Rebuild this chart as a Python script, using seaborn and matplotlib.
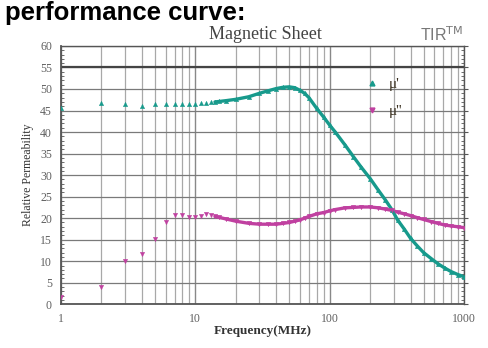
import matplotlib
matplotlib.use("Agg")
import matplotlib.pyplot as plt
import seaborn as sns
import numpy as np
import pandas as pd
from matplotlib.lines import Line2D
from matplotlib.ticker import LogLocator, MultipleLocator, NullFormatter, FixedLocator

freq = [1, 2, 3, 4, 5, 6, 7, 8, 9, 10, 11, 12, 13, 14, 15, 17, 20, 25, 30, 35, 40, 45, 50,
        55, 60, 65, 70, 80, 90, 100, 110, 130, 150, 170, 200, 230, 260, 290, 320, 360,
        400, 450, 500, 570, 640, 720, 800, 900, 1000]
mu_real = [45.5, 46.8, 46.5, 46.1, 46.6, 46.6, 46.6, 46.5, 46.5, 46.6, 46.7, 46.8, 46.9, 47.0,
           47.1, 47.3, 47.6, 48.2, 49.0, 49.6, 50.1, 50.4, 50.5, 50.3, 49.7, 49.0, 48.0, 45.5,
           43.5, 41.6, 40.0, 37.0, 34.3, 32.0, 29.2, 26.5, 24.2, 22.0, 19.6, 17.4, 15.3, 13.5,
           12.0, 10.6, 9.4, 8.4, 7.6, 6.9, 6.4]
mu_imag = [1.6, 4.1, 10.1, 11.7, 15.2, 19.2, 20.7, 20.7, 20.3, 20.3, 20.4, 20.9, 20.7, 20.4,
           20.2, 19.8, 19.3, 18.8, 18.6, 18.6, 18.6, 18.8, 19.0, 19.3, 19.6, 20.0, 20.4, 21.0,
           21.3, 21.7, 22.0, 22.4, 22.5, 22.6, 22.6, 22.4, 22.1, 21.8, 21.4, 21.0, 20.6, 20.1,
           19.7, 19.2, 18.8, 18.4, 18.2, 18.0, 17.8]
y_ticks = [0, 5, 10, 15, 20, 25, 30, 35, 40, 45, 50, 55, 60]
x_tick_labels = ["1", "10", "100", "1000"]

teal = "#179a8c"
mag = "#c040a0"

df = pd.DataFrame({"freq": freq, "mu1": mu_real, "mu2": mu_imag})
dense = df[df["freq"] >= 14]

sns.set_style("white")
plt.rcParams["font.family"] = ["Liberation Serif", "DejaVu Serif"]

fig = plt.figure(figsize=(4.89, 3.48), dpi=100)
ax = fig.add_axes([0.1247, 0.1256, 0.949 - 0.1247, 0.868 - 0.1256])
ax.set_xscale("log")

sns.lineplot(data=dense, x="freq", y="mu1", ax=ax, color=teal, lw=2.4, legend=False)
sns.lineplot(data=dense, x="freq", y="mu2", ax=ax, color=mag, lw=2.4, legend=False)
sns.scatterplot(data=df, x="freq", y="mu1", ax=ax, color=teal, marker="^", s=10,
                edgecolor=teal, linewidth=0.3, legend=False, zorder=3)
sns.scatterplot(data=df, x="freq", y="mu2", ax=ax, color=mag, marker="v", s=10,
                edgecolor=mag, linewidth=0.3, legend=False, zorder=3)

ax.set_xlim(1, 1000)
ax.set_ylim(0, 60)
ax.xaxis.set_major_locator(FixedLocator([1, 10, 100, 1000]))
ax.set_xticklabels(x_tick_labels)
ax.xaxis.set_minor_locator(LogLocator(base=10, subs=np.arange(2, 10)))
ax.xaxis.set_minor_formatter(NullFormatter())
ax.yaxis.set_major_locator(FixedLocator(y_ticks))
ax.yaxis.set_minor_locator(MultipleLocator(1))

ax.grid(which="major", axis="x", color="#888888", lw=1.0)
ax.grid(which="minor", axis="x", color="#a8a8a8", lw=0.9)
ax.grid(which="major", axis="y", color="#7a7a7a", lw=0.9)
ax.axhline(55, color="#444444", lw=1.6, zorder=1)

ax.tick_params(axis="both", which="major", labelsize=8.5, labelcolor="#606060",
               direction="out", length=3, color="#555555", width=0.8)
ax.tick_params(axis="y", which="minor", direction="in", length=2, color="#555555",
               left=True, right=True)
ax.tick_params(axis="y", which="major", right=True)
ax.tick_params(axis="x", which="minor", length=0)
for s in ax.spines.values():
    s.set_color("#555555")
    s.set_linewidth(1.0)
ax.spines["bottom"].set_linewidth(1.3)
ax.spines["left"].set_linewidth(1.3)

ax.set_xlabel("Frequency(MHz)", fontsize=9.5, fontweight="bold", color="#333333", labelpad=0)
ax.set_ylabel("Relative Permeability", fontsize=8.5, color="#333333", labelpad=4)

handles = [Line2D([], [], marker="^", color=teal, ls="none", markersize=3.5),
           Line2D([], [], marker="v", color=mag, ls="none", markersize=3.5)]
leg = ax.legend(handles, ["\u03bc'", "\u03bc''"], loc="upper left",
                bbox_to_anchor=(0.715, 0.93), frameon=False, fontsize=11,
                handletextpad=0.5, labelspacing=0.85, handlelength=1.2)
for t in leg.get_texts():
    t.set_color("#3a3020")

fig.text(0.01, 0.962, "performance curve:", fontsize=18.5, fontweight="bold",
         family=["Liberation Sans", "DejaVu Sans"], color="black", va="center", ha="left")
fig.text(0.542, 0.9, "Magnetic Sheet", fontsize=13, color="#444444",
         va="center", ha="center")
fig.text(0.858, 0.9, "TIR$^{\\mathrm{TM}}$", fontsize=11.5, color="#777777",
         family=["Liberation Sans", "DejaVu Sans"], va="center", ha="left")

fig.savefig("out.png", dpi=100)
